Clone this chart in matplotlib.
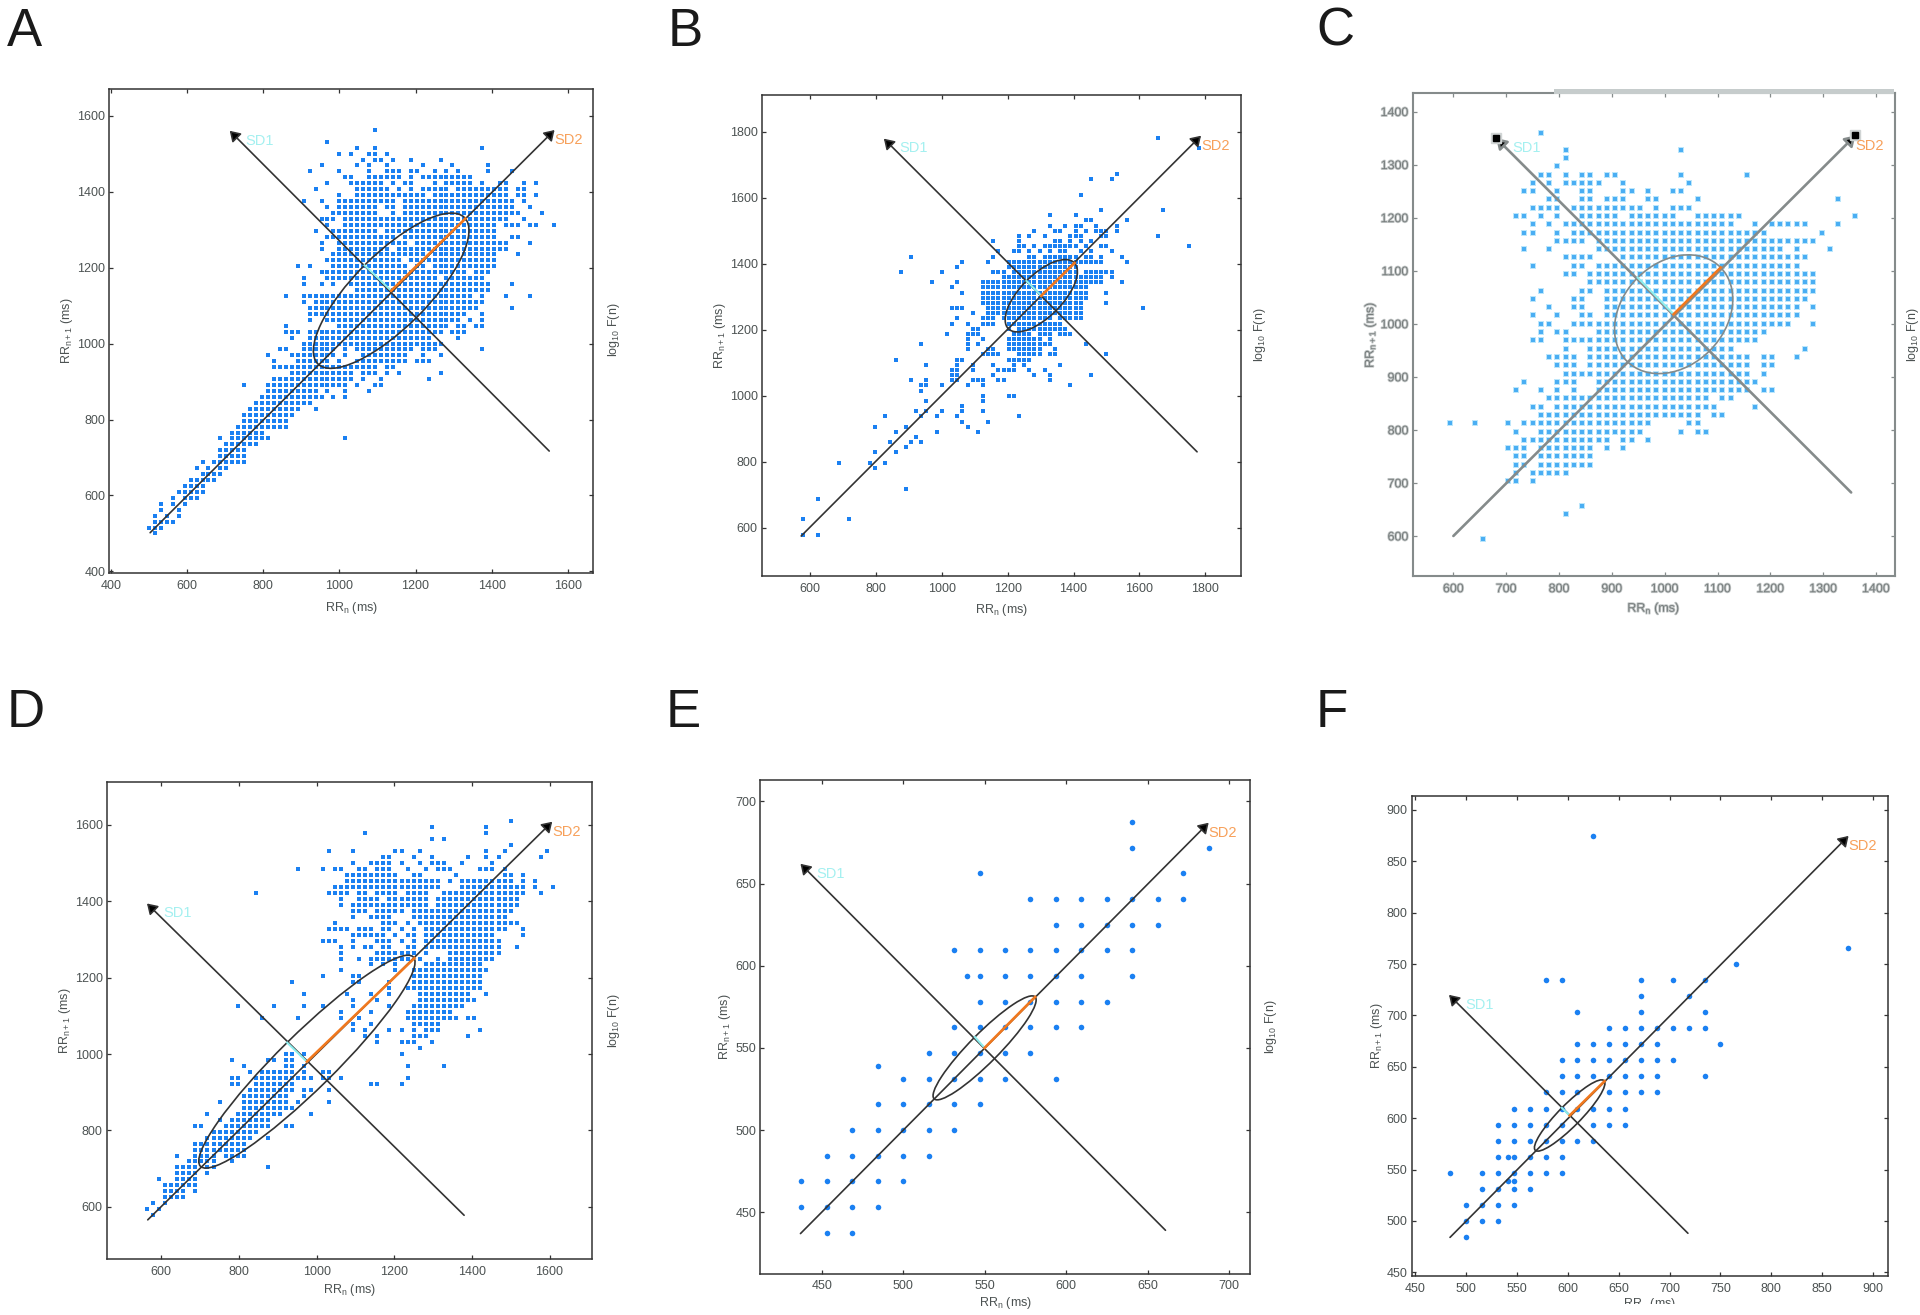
#!/usr/bin/python3
# Poincare plots, six panels. RR values sit on a 15.625 ms grid, so the points
# are kept as (row index, column indices).

import numpy as np
import matplotlib
matplotlib.use("Agg")
import matplotlib.pyplot as plt
from matplotlib.patches import Ellipse, Rectangle
import matplotlib.patheffects as pe

plt.rcParams["font.family"] = ["Liberation Sans", "DejaVu Sans"]
plt.rcParams["mathtext.default"] = "regular"

RR_STEP = 15.625

A_ROWS = [(100,"70"),(98,"62"),(97,"67 70 88"),(96,"64 66 69 70 72"),(95,"68 70 71 73 76 81"),
 (94,"61 67 69 72 78 83 89"),(93,"59 64 69 72-74 76 77 80 82 84 89 93"),(92,"65 66 69-74 76 78-86"),
 (91,"62 66-71 73 75 76 80 82-86 88 91 92 95 97"),(90,"60 67-72 74 76 78-82 84-92 94 95"),
 (89,"64 67-74 75-78 80-86 87-92 94 95 97"),(88,"58 61 64-73 75-93 95"),(87,"62 64-67 68-70 72 73 75-93 96"),
 (86,"63 64-67 68-70 73 75-94 98"),(85,"61-63 65-74 75-92 95"),(84,"62 65-90 92-94 96 97 100"),
 (83,"60 63 64-70 72-90"),(82,"62-73 75-90 93 94"),(81,"61 64-75 77-92 96"),(80,"61 64-72 74-92"),
 (79,"63-78 80-90 94"),(78,"62-74 76-90"),(77,"57 59 63-75 77 78 80-90"),(76,"61 62 63-85 87-89"),
 (75,"58 62 63 64-80 82-88"),(74,"58 61 63 66-89 93"),(73,"67-89"),(72,"55 58-63 64-86 88 92 96"),
 (71,"58 60-88"),(70,"59-87 93"),(69,"59-85 88"),(68,"59 62-84 86 88"),(67,"55 64-82 84 85 87 88"),
 (66,"55-57 59-81 83-85"),(65,"56 59-79 84"),(64,"58 59-81"),(63,"54 55 58-63 65 67-76 78-80 88"),
 (62,"52 56 57 58-63 65 68-75 78 81"),(61,"53 57-62 64 67-75 77-79"),(60,"53-55 56-67 68-70 72 73"),
 (59,"56-66 68-70 72 74 81"),(58,"53-55 56-66 68 71 79"),(57,"48 52-65 67 70 71"),(56,"52-60 62 65 69"),
 (55,"51-61 63 65"),(54,"50-59"),(53,"49-57 60"),(52,"48-56"),(51,"48-55"),(50,"47-55"),(49,"46-51"),
 (48,"44 46-52 65"),(47,"45-50"),(46,"44-48"),(45,"44-48"),(44,"41 43-48"),(43,"40 42 44 45"),
 (42,"41-44"),(41,"39-43"),(40,"38-41"),(39,"37-41"),(38,"36 38-40"),(37,"34 36 38"),(36,"34 37"),
 (35,"33 35 37"),(34,"33-36"),(33,"32-34"),(32,"33")]

B_ROWS = [(114,"106"),(112,"114"),(107,"98"),(106,"93 97"),(103,"91"),(100,"95 107"),(99,"85 90"),
 (98,"92 93 100"),(97,"85 88 90 91 94 98"),(96,"82 86 87 90 92 94-96 98"),(95,"79 81 84 89-91 95 96 106"),
 (94,"74 79 86 87 89 91 93"),(93,"79 80 82 84-90 92 95 96 112"),(92,"75 78 79 81 83 85 87 88 91 93 97"),
 (91,"58 74 81 82 84-90 92 93 95 99"),(90,"68 73 77-95 100"),(89,"67 77-90"),(88,"56 64 74-76 78-90 92-97"),
 (87,"76 77-95 97"),(86,"62 67 72-95 99"),(85,"66 72-92"),(84,"68 72-92 96"),(83,"72-92"),(82,"72-91 96"),
 (81,"66-68 73-91 103"),(80,"70 73-75 76-91"),(79,"67 72-74 76-85 87-91"),(78,"66 69 72-74 77-87"),
 (77,"70 71 77 79-88"),(76,"65 69 70 71 78-81 83-85 87-89"),(75,"69 72 77-83 85"),(74,"60 69 71 77-85 92"),
 (73,"69 73 74 77-83 86"),(72,"72-75 79-83 85 86 96"),(71,"55 67 68 77-81"),(70,"61 67 70 74 78 80 87"),
 (69,"66 67 70 75-78 81 84"),(68,"66 67 74 82 85 93"),(67,"58 61 66 67 70-72 75 76 85"),
 (66,"60 61 64 69 72 89"),(65,"60"),(64,"72 77 78"),(63,"61 72"),(62,"68"),(61,"59 61 64 68 72"),
 (60,"53 60 63 67 79"),(59,"68 73"),(58,"51 57 69"),(57,"55 63 71"),(56,"59"),(55,"54 58 60"),(54,"57"),
 (53,"51 55"),(51,"44 50 53"),(50,"51"),(46,"57"),(44,"40"),(40,"37 46"),(37,"37 40")]

C_ROWS = [(87,"49"),(85,"52 66"),(84,"52"),(83,"51"),(82,"49 50 52 54 55 57 58 66 74"),
 (81,"48 50 52 53 54-56 59 67"),(80,"47 48 51 54 55 59 60 62 65 66"),(79,"50 51 54 55 57-59 62 63 68 85"),
 (78,"48-51 53-61 63 65-67"),(77,"46 47 49 51 54-58 60-65 68-73 87"),
 (76,"48 50 52-59 60-72 75 77-81 85"),(75,"47 48 51 53-76 83"),(74,"51 52 53 54 56-76 77-82"),
 (73,"47 50 56-78 80 84"),(72,"52-55 59-81"),(71,"48 53 54 56-80"),(70,"52 53 55-82"),(69,"55-82"),
 (68,"49 54 55 57-82"),(67,"48 53 54 57-81"),(66,"50 53 54 57-80 82"),(65,"48 51 54 55 57-80"),
 (64,"49 50 53-79 82"),(63,"49 51 52 56-76"),(62,"48 49 52-75"),(61,"52 55-72 81"),(60,"50-53 55-74 76 77 80"),
 (59,"51-53 55-74 76 77"),(58,"52-54 55-74 76"),(57,"47 51 52 53 56-75"),(56,"46 49 51 53 56-74 76 77"),
 (55,"50-69 71 72"),(54,"48 49 51-70 75"),(53,"49 50 51-68 70 71"),(52,"38 41 45 47-62 67 68"),
 (51,"46 49-59 60 61 66 68 69"),(50,"47-57 59 60 62"),(49,"45 46 47 49-55 57 59"),(48,"46 47 49-55"),
 (47,"46 47 49-55"),(46,"46 48-52"),(45,"45 46 48"),(42,"54"),(41,"52"),(38,"42")]

D_ROWS = [(103,"96"),(102,"83 92"),(101,"72 92"),(100,"83 85"),(99,"96"),(98,"66 70 77 78 81 92 95 102"),
 (97,"75 76 80 83 89 92 94 101"),(96,"70 73 74-76 78 81 83-85 88 93"),
 (95,"61 65 67 68 71 72 74-76 79 82 84-86 91-93 95"),(94,"69-77 80 81 87 95 96 98"),
 (93,"69-84 86 88-96 98 100"),(92,"67 68 69-84 88-98 100 103"),(91,"54 66-69 71 72 74-77 79-82 85-98 101"),
 (90,"68 71-74 76-82 84-97"),(89,"68 70-82 84-97"),(88,"70-72 74-78 80-96"),(87,"70 73-76 80-95"),
 (86,"67 75-77 79 81 82-97"),(85,"66-69 71-73 75 76 78 80 82-95 98"),(84,"70-75 77 79 80 82-93 98"),
 (83,"65-67 70 74 75 76 78 80 82-94"),(82,"68 70 72 73 75 76 79 80 82-94 97"),(81,"68 74-80 82 86-94"),
 (80,"68 71 73-78 79 81 84 86-93"),(79,"73 75 77 82-91"),(78,"68 77 80-92"),(77,"65 70 71 80-91"),
 (76,"60 70 71 76 80-91"),(75,"76 79-91"),(74,"62 69 73 76 81-89 92"),(73,"70 74 81-90"),
 (72,"51 57 62 65 70 76 80-88"),(71,"68 73 79-86"),(70,"55 61 68 71 79-87 89 90"),(69,"70 73 80-84"),
 (68,"70 72 76 78 80 82-84 91"),(67,"72 74 80-82 89"),(66,"74 78-80 83"),(65,"81"),(64,"59 60 62 78"),
 (63,"50 56 57 59 60"),(62,"52 59 60 62 79 85"),(61,"53 55-58 59 60 62 65 66"),
 (60,"50 51 54-58 59 60 61-63 65 66 68 79"),(59,"50 51 54-60 73 74 78"),(58,"53-60 62 63 66"),
 (57,"52-59 62"),(56,"48 52-59 61 66"),(55,"52-60"),(54,"46 51 52-58 63"),(53,"48 50-56"),
 (52,"44 45 49-56 59 60"),(51,"47-54"),(50,"46-53 56"),(49,"44-52"),(48,"44-52"),(47,"41 44-47 49-52"),
 (46,"43-47 50"),(45,"41-44 46 47 56"),(44,"41-44 46"),(43,"38 41-44"),(42,"39-44"),(41,"39-42 44"),
 (40,"39-42"),(39,"37 39"),(38,"36 38"),(37,"37")]

E_ROWS = [(44,"41"),(43,"41 44"),(42,"35 43"),(41,"37-43"),(40,"38-42"),(39,"34-41"),
 (38,"34.5 35 36 37 38 39 41"),(37,"35-40"),(36,"34-39"),(35,"33-37"),(34.5,"31"),(34,"32-36 38"),
 (33,"31-35"),(32,"30-34"),(31,"29-33"),(30,"28-32"),(29,"28-31"),(28,"29 30")]

F_ROWS = [(56,"40"),(49,"56"),(48,"49"),(47,"37 38 43 45 47"),(46,"43 46"),(45,"39 43 47"),(44,"41-47"),
 (43,"39-44 48"),(42,"38-45"),(41,"38-44 47"),(40,"37 38 39 41-44"),(39,"35-42"),(38,"34-38 40-42"),
 (37,"34-40"),(36,"34 34.6 35-38"),(35,"31 33-38"),(34.5,"34.6 35"),(34,"33-36"),(33,"32-35"),
 (32,"32-34"),(31,"32")]

PANEL_LETTERS = ["A", "B", "C", "D", "E", "F"]
PANEL_ROWS = [A_ROWS, B_ROWS, C_ROWS, D_ROWS, E_ROWS, F_ROWS]

# (start, tip) of the identity line and of the perpendicular
IDENTITY_LINES = [((503,502),(1565,1562)), ((573,575),(1787,1788)), ((600,600),(1361,1355)),
                  ((565,566),(1607,1608)), ((437,437),(687.5,687)), ((484,484),(876,874.7))]
PERP_LINES = [((1551,717),(712,1560)), ((1775,830),(824,1779)), ((1353,682),(681,1350)),
              ((1380,578),(563,1394)), ((661,439),(437,662)), ((718,488),(483,720))]
CENTERS = [(1136,1139), (1302,1303), (1017,1018), (975,980), (550,550), (601.7,602.6)]
SD1_ENDS = [(1066,1206), (1257,1348), (949,1087), (924,1030), (544,556.6), (594,610)]
SD2_ENDS = [(1331,1329), (1403,1402), (1106,1106), (1252,1251), (581,581), (636,636)]

X_TICKS = [range(400,1601,200), range(600,1801,200), range(600,1401,100),
           range(600,1601,200), range(450,701,50), range(450,901,50)]
Y_TICKS = X_TICKS

# layout, in pixels of the 1920x1315 picture
W, H = 1920, 1315
BOXES = [(109.4,593,89,572.6), (762,1241.2,95.1,575.9), (1412.7,1895,93,576.3),
         (107,592.2,782,1259.2), (760.4,1250.2,780,1273.5), (1411.8,1888.2,795.5,1276)]
XLIMS = [(396,1666), (454,1909), (523,1436), (460,1710), (412.4,713), (446.4,915)]
YLIMS = [(397,1670), (454,1911), (524,1435), (463,1712), (412.7,713), (446.4,914)]
LETTER_POS = [(7,46), (668,46), (1316,46), (7,727), (666,727), (1315.5,727)]
LOG_LABEL_POS = [(614,330), (1260,335), (1913,335), (614,1021), (1270.6,1027), None]
XLABEL_PADS = [6, 5, 4, 3, 2, 1]

BLUE = "#1a80f2"
LINE = "#333333"
TEXT = "#4c5252"
FS = 9


def expand(rows):
    xs, ys = [], []
    for row, cols in rows:
        for tok in cols.split():
            if "-" in tok:
                a, b = tok.split("-")
                vals = range(int(a), int(b)+1)
            else:
                vals = [float(tok)]
            for v in vals:
                xs.append(v)
                ys.append(row)
    return np.array(xs)*RR_STEP, np.array(ys)*RR_STEP


fig = plt.figure(figsize=(W/100, H/100), dpi=100)

for i in range(6):
    l, r, t, b = BOXES[i]
    ax = fig.add_axes((l/W, 1-b/H, (r-l)/W, (b-t)/H))
    letter = PANEL_LETTERS[i]
    blurry = letter == "C"
    line_col = "#858b8b" if blurry else LINE
    line_w = 1.9 if blurry else 1.2

    x, y = expand(PANEL_ROWS[i])
    if blurry:
        ax.scatter(x, y, s=14, marker="s", color="#bce6fb", linewidths=0, zorder=2)
        ax.scatter(x, y, s=5, marker="s", color="#4aaef3", linewidths=0, zorder=2)
    elif letter in "EF":
        ax.scatter(x, y, s=16, marker="o", color=BLUE, linewidths=0, zorder=2)
    else:
        ax.scatter(x, y, s=10, marker="s", color=BLUE, linewidths=0, zorder=2)

    cx, cy = CENTERS[i]
    sx, sy = SD1_ENDS[i]
    ox, oy = SD2_ENDS[i]
    a = np.hypot(ox-cx, oy-cy)
    c = np.hypot(sx-cx, sy-cy)
    ax.add_patch(Ellipse((cx, cy), 2*a, 2*c, angle=45, facecolor="none",
                         edgecolor=line_col, lw=1.2, zorder=4))

    for start, tip in (IDENTITY_LINES[i], PERP_LINES[i]):
        ax.annotate("", xy=tip, xytext=start, zorder=3,
                    arrowprops=dict(arrowstyle="-|>,head_length=0.5,head_width=0.32", color=line_col,
                                    lw=line_w, mutation_scale=12, shrinkA=0, shrinkB=0,
                                    fc="k", ec=line_col))
        if blurry:
            ax.plot(*tip, marker="s", ms=7, color="#d0d4d4", zorder=3)
            ax.plot(*tip, marker="s", ms=4, color="k", zorder=3)

    ax.plot([cx, sx], [cy, sy], color="#8deeee", lw=1.5, zorder=5)
    ax.plot([cx, ox], [cy, oy], color="#f0781e", lw=1.9, zorder=5)

    ax.annotate("SD1", xy=PERP_LINES[i][1], xytext=(11.5, -7), textcoords="offset points",
                color="#a4f0f0", fontsize=10.5, va="center", ha="left", zorder=6)
    ax.annotate("SD2", xy=IDENTITY_LINES[i][1], xytext=(0, -7.5), textcoords="offset points",
                color="#f7a05a", fontsize=10.5, va="center", ha="left", zorder=6)

    ax.set_xlim(*XLIMS[i])
    ax.set_ylim(*YLIMS[i])
    ax.set_xticks(list(X_TICKS[i]))
    ax.set_yticks(list(Y_TICKS[i]))
    ax.tick_params(direction="in", top=True, right=True, length=2.6, width=0.9,
                   labelsize=FS, color=line_col, labelcolor=TEXT)
    ax.tick_params(axis="x", pad=5)
    ax.tick_params(axis="y", pad=3)
    for s in ax.spines.values():
        s.set_color(line_col)
        s.set_linewidth(1.5 if blurry else 1.1)
    ax.set_xlabel("RR$_{n}$ (ms)", fontsize=FS, color=TEXT, labelpad=XLABEL_PADS[i])
    ax.set_ylabel("RR$_{n+1}$ (ms)", fontsize=FS, color=TEXT, labelpad=1.5)

    if blurry:
        for txt in ax.get_xticklabels()+ax.get_yticklabels()+[ax.xaxis.label, ax.yaxis.label]:
            txt.set_color("#777d7d")
            txt.set_path_effects([pe.withStroke(linewidth=1.2, foreground="#c4c8c8")])

    lx, ly = LETTER_POS[i]
    fig.text(lx/W, 1-ly/H, letter, fontsize=38, color="#1a1a1a", ha="left", va="baseline")
    if LOG_LABEL_POS[i] is not None:
        px, py = LOG_LABEL_POS[i]
        fig.text(px/W, 1-py/H, "log$_{10}$ F(n)", rotation=90, fontsize=FS, color=TEXT,
                 ha="center", va="center")

# the grey bar along the top of C, and the cut-off bottom edge under F
fig.add_artist(Rectangle((1554/W, 1-94/H), 340/W, 5/H, transform=fig.transFigure,
                         facecolor="#c6cccc", edgecolor="none", zorder=5))
fig.add_artist(Rectangle((1300/W, 0), 620/W, 11/H, transform=fig.transFigure,
                         facecolor="white", edgecolor="none", zorder=5))

plt.savefig("out.png", dpi=100)
